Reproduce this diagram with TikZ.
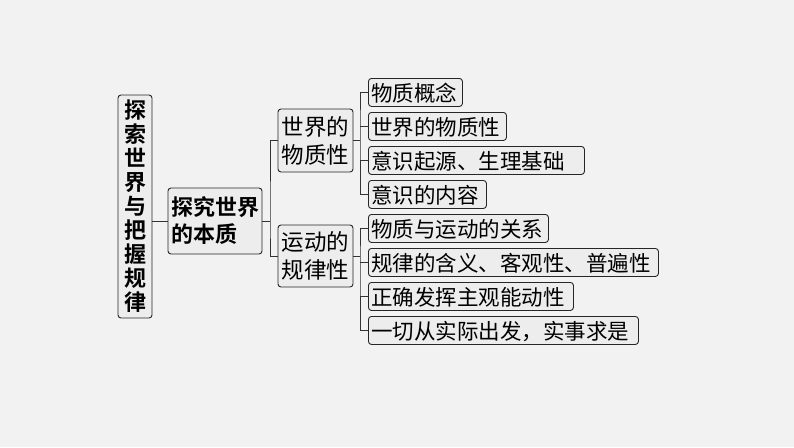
\documentclass[tikz,border=0pt]{standalone}
\usepackage{fontspec}
\setmainfont{Noto Sans CJK SC}
\newfontfamily\cjkb{Noto Sans CJK SC Bold}
\begin{document}
\begin{tikzpicture}[x=1pt,y=-1pt,
  bx/.style={draw=black!85,line width=0.9pt,rounded corners=3pt,fill=white!93!black,inner sep=0pt,font=\fontsize{21.5}{24}\selectfont},
  it/.style={bx,anchor=north west,minimum height=28pt,text depth=0pt,align=left,inner xsep=3pt},
  ln/.style={draw=black!80,line width=0.8pt}]
\fill[white!95!black] (0,0) rectangle (794,447);
\useasboundingbox (0,0) rectangle (794,447);
% left
\node[bx,minimum width=34pt,minimum height=223pt,font=\cjkb\fontsize{22}{24}\selectfont,align=center] (L) at (135,206.5) {探\\索\\世\\界\\与\\把\\握\\规\\律};
\node[bx,minimum width=94pt,minimum height=66pt,font=\cjkb\fontsize{22}{27}\selectfont,align=left] (T) at (215,221) {探究世界\\的本质\phantom{界}};
\node[bx,minimum width=75pt,minimum height=63pt,font=\fontsize{22.5}{28}\selectfont,align=left] (A) at (315.5,140.5) {世界的\\物质性};
\node[bx,minimum width=75pt,minimum height=62pt,font=\fontsize{22.5}{28}\selectfont,align=left] (B) at (315.5,256) {运动的\\规律性};
\node[it,text width=88pt] (a1) at (368,78) {物质概念};
\node[it,text width=132pt] (a2) at (368,112) {世界的物质性};
\node[it,text width=210pt] (a3) at (368,146) {意识起源、生理基础};
\node[it,text width=112pt] (a4) at (368,180) {意识的内容};
\node[it,text width=174pt] (b1) at (368,214) {物质与运动的关系};
\node[it,text width=284pt] (b2) at (368,248) {规律的含义、客观性、普遍性};
\node[it,text width=199pt] (b3) at (368,282) {正确发挥主观能动性};
\node[it,text width=264pt] (b4) at (368,316) {一切从实际出发，实事求是};
% connectors
\draw[ln] (L.east |- T.west) -- (T.west);
\coordinate (tj) at (270,0);
\draw[ln] (T.east) -- (tj |- T.east);
\draw[ln] (A.west) -| (tj |- T.east) |- (B.west);
\coordinate (aj) at (360,0);
\draw[ln] (A.east) -- (aj |- A.east);
\draw[ln] (a1.west) -| (aj |- a2.west) |- (a4.west);
\draw[ln] (aj |- a2.west) -- (a2.west) (aj |- a3.west) -- (a3.west);
\draw[ln] (B.east) -- (aj |- B.east);
\draw[ln] (b1.west) -| (aj |- b2.west) |- (b4.west);
\draw[ln] (aj |- b2.west) -- (b2.west) (aj |- b3.west) -- (b3.west);
\end{tikzpicture}
\end{document}
